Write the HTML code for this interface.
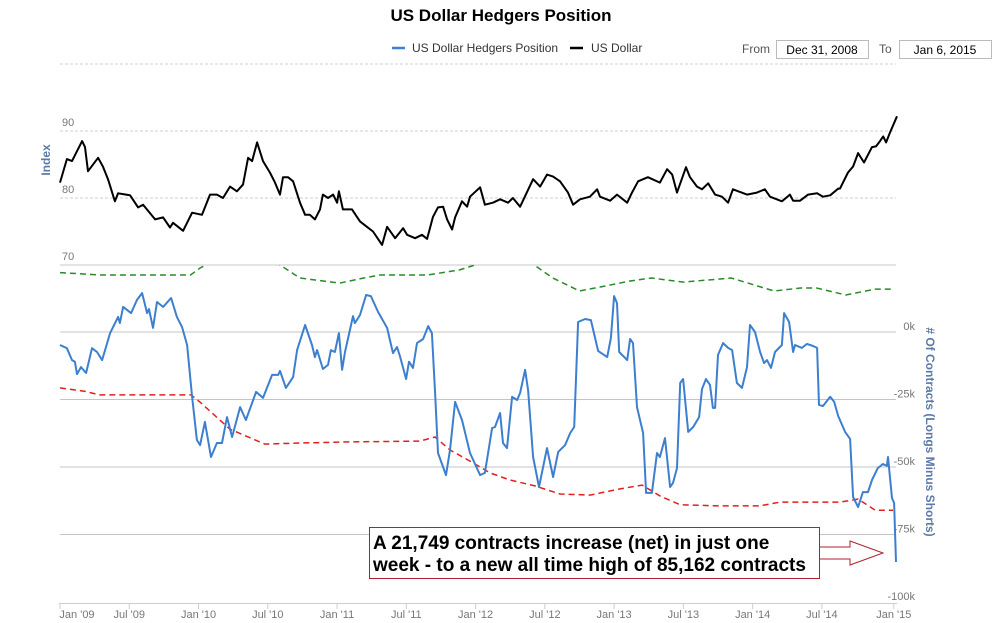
<!DOCTYPE html>
<html><head><meta charset="utf-8">
<style>
body{margin:0;background:#fff;}
svg{display:block;font-family:"Liberation Sans",Arial,sans-serif;}
</style></head>
<body>
<svg id="chart" width="1001" height="623" viewBox="0 0 1001 623">
<defs><clipPath id="botclip"><rect x="58" y="265" width="842" height="340"/></clipPath></defs>
<text x="501" y="21" text-anchor="middle" font-size="17" font-weight="bold" fill="#000">US Dollar Hedgers Position</text>
<g>
<line x1="392" y1="48" x2="405" y2="48" stroke="#4080d0" stroke-width="2.5"/>
<text x="412" y="52" font-size="12" fill="#333">US Dollar Hedgers Position</text>
<line x1="570" y1="48" x2="583" y2="48" stroke="#000" stroke-width="2.5"/>
<text x="591" y="52" font-size="12" fill="#333">US Dollar</text>
</g>
<text x="742" y="53" font-size="12" fill="#555">From</text>
<rect x="776.5" y="40.5" width="92" height="18" fill="#fff" stroke="#bbb"/>
<text x="822" y="54" font-size="12" fill="#000" text-anchor="middle">Dec 31, 2008</text>
<text x="879" y="53" font-size="12" fill="#555">To</text>
<rect x="899.5" y="40.5" width="92" height="18" fill="#fff" stroke="#bbb"/>
<text x="945" y="54" font-size="12" fill="#000" text-anchor="middle">Jan 6, 2015</text>
<g id="grid"></g>
<g id="series"></g>
<text transform="translate(50,160) rotate(-90)" text-anchor="middle" font-size="12" font-weight="bold" fill="#5b7aa6">Index</text>
<text transform="translate(926,432) rotate(90)" text-anchor="middle" font-size="12" font-weight="bold" fill="#5b7aa6"># Of Contracts (Longs Minus Shorts)</text>
<g>
<rect x="369.5" y="527.5" width="450" height="51" fill="#fff" stroke="#b02030" stroke-width="1"/>
<text x="373" y="549" font-size="19" font-weight="bold" fill="#000">A 21,749 contracts increase (net) in just one</text>
<text x="373" y="571" font-size="19" font-weight="bold" fill="#000">week - to a new all time high of 85,162 contracts</text>
<path d="M820,547 H850 V541 L883,553 L850,565 V559 H820" fill="none" stroke="#b02030" stroke-width="1"/>
</g>
</svg>
<script>
const xTickLabels=["Jan '09","Jul '09","Jan '10","Jul '10","Jan '11","Jul '11","Jan '12","Jul '12","Jan '13","Jul '13","Jan '14","Jul '14","Jan '15"];
const xTickWeeks=[0,26,52,78,104,130,156,182,208,234,260,286,313];
const leftTicks=[70,80,90,100];
const rightTicks=[0,-25,-50,-75,-100];
const dollarWeeks=[0,2.6,4.5,8.3,9.4,10.5,14.3,16.1,18,20.6,21.8,26.3,29.3,31.2,35.7,38.7,41.3,42.4,46.2,49.6,53.3,56.3,58.9,61.2,63.8,66.4,68.7,70.6,72.1,74,76.2,78.8,80.7,82.6,83.7,85.6,87.5,90.1,92,93.8,95.7,97.6,98.7,100.6,102.5,104,104.7,106.2,109.6,112.6,115.2,117.5,120.9,122.8,125.8,128.8,130.3,133.3,135.9,137.8,140,141.9,143.8,145.3,147.2,148.3,150.9,152.8,153.9,157.7,159.5,162.5,165.2,168.2,170,172.7,177.6,180.2,182.8,185.1,187.7,190.7,192.6,195.2,198.9,201.6,202.7,206.5,209.1,212.9,214.7,217,220.7,225.2,227.9,229.8,231.6,235,236.5,239.1,241,243.3,245.9,248.5,250.8,252.6,257.9,261.6,264.6,266.5,271,274,275.2,277.8,280.8,284.2,286.4,289.1,292.1,292.8,295.8,297.7,299.6,301.8,304.8,306.3,307.8,309,310.1,311.6,314.2];
const dollarValues=[82.3,85.8,85.5,88.5,87.6,84,86,84.7,82.8,79.5,80.7,80.4,78.6,79,76.8,77.1,75.6,76.3,75.1,77.8,77.5,80.5,80.5,80,81.7,81,82,86,85.5,88.3,85.5,83.8,82.3,80.5,83.1,83.1,82.5,79.3,77.5,77.5,76.8,78.3,80.5,80,80.5,79.3,81,78.3,78.3,76.5,75.7,75,73,75.7,74,75.5,74.5,74,74.5,73.9,77.2,78.6,78.7,76.8,75.3,77.1,79.5,78.7,80.2,81.6,79,79.3,79.8,79.3,80,78.7,82.8,81.7,83.5,83.2,82.5,80.8,79,79.8,80.2,81.3,80.2,79.6,80.5,79.3,80.8,82.5,83.1,82.3,84.3,83.5,80.8,84.6,83.1,81.7,81.3,82.2,80.5,80.2,79.3,81.3,80.5,80.8,81.3,80.2,79.5,80.5,79.6,79.6,80.5,80.7,80.2,80.4,81.4,81.4,83.8,84.7,86.7,85.3,87.6,87.7,88.5,89.2,88.3,89.8,92.2];
const hedgerWeeks=[0,2.6,4.5,5.6,6.4,7.9,9.8,12,13.9,15.8,18.8,21.8,22.5,23.7,26.7,28.9,30.8,32.7,33.4,34.9,36.4,38.7,41.7,43.9,45.8,47.7,49.6,51.4,52.6,54.4,56.7,58.9,60.8,62.7,64.6,67.6,69.8,73.6,76.2,79.6,81.9,82.6,84.8,87.5,89,92,94.6,95.7,96.5,98.7,100.6,101.7,103.2,104.7,105.9,107,110,110.7,112.6,114.9,116.7,119.4,122.8,125,126.5,127.6,129.9,131,132.5,134,136.3,138.2,139.6,140.8,141.9,144.9,146.4,148.3,150.9,153.9,157.7,159.5,162.2,163.3,165.2,166.3,167.8,169.7,171.6,172.7,174.6,175.7,177.6,179.8,182.8,185.1,187,189.6,191.5,193,194.5,197.1,199.3,202,205.4,206.8,208,209.1,209.9,212.9,214,215.1,216.6,218.9,220,222.2,224.1,225.2,227.1,229,230.1,231.6,232.8,233.9,235.8,237.7,239.9,241,242.5,244,245.1,245.9,247,248.9,250.8,252.3,254.1,256,257.9,259,260.9,262.8,264.3,265.4,266.9,268.4,271,271.8,273.7,275.2,275.9,278.5,280.4,282.7,284.2,284.9,286.4,289.1,290.6,292.1,294.7,296.6,297.7,299.6,301.4,303.3,304.8,307,308.9,310.4,310.8,312.3,313.1,313.8];
const hedgerValues=[-4.8,-6,-10.4,-11,-15.6,-13,-15.2,-6,-7.4,-10.4,-0.4,5.6,3.3,9.3,7,11.9,14.4,7,8.5,1.5,11.1,9.3,12.6,5.6,1.9,-4.8,-24,-40,-41.9,-33.3,-46.3,-41.1,-41.1,-31.5,-38.9,-27.8,-32.6,-22.2,-24.4,-15.9,-15.9,-14.4,-20.7,-16.7,-6.7,2.6,-4.8,-9.3,-6.7,-13.7,-12.2,-6.7,-7.4,-0.4,-14,-7.4,5.9,3.3,6.3,13.7,13.3,7.4,1.5,-7.8,-5.6,-8.9,-17.4,-11,-13.3,-4.1,-2.6,2.2,-0.4,-22.6,-44.8,-53,-43.7,-25.9,-32.6,-44.8,-53,-52.2,-35.6,-35.2,-30,-41.1,-43,-24,-25.2,-22.6,-14,-21.5,-46.3,-57.4,-43,-53.7,-44.4,-41.9,-37.4,-35.2,3.7,4.8,4.4,-7,-9.3,-2.2,13.3,10.7,-7.4,-10.4,-2.6,-4.1,-27.8,-37.4,-59.6,-59.6,-44.8,-46.3,-39.3,-57.4,-55.9,-50.4,-18.9,-17.4,-37,-35.2,-31.5,-21.1,-17.4,-19.6,-28.1,-28.1,-8.5,-4.1,-5.9,-6.7,-18.9,-20.7,-13,2.6,0,-7.4,-11.5,-10.4,-13.3,-7.4,-4.8,7,3.7,-7.4,-4.8,-5.9,-4.4,-5.2,-5.9,-27,-27.4,-24,-25.9,-31.1,-37,-39.6,-61.1,-64.8,-59.3,-59.3,-54.8,-50.4,-48.9,-49.6,-46.3,-61.5,-63.3,-85.2];
const lowerBandWeeks=[0,9.4,15,49.2,52.6,63.8,76.9,90.1,108.9,135.1,140.8,146.4,153.9,161.4,168.9,178.3,187.7,199,210.2,218.5,225.2,232.8,247.8,262.8,270.3,292.8,299.6,306,312.7];
const lowerBandValues=[-20.7,-22,-23.3,-23.3,-26,-36,-41.5,-41.1,-40.7,-40.4,-38.9,-43.7,-47.8,-52.2,-54.8,-57,-60,-60.4,-58.1,-56.7,-60.7,-64,-64.4,-64.4,-63,-63,-61.9,-66,-66];
const upperBandWeeks=[0,15,49,52.6,56,80,82.6,90,105,114,120,138,150,158,177,185,195,203,214,222,234,252,268,278,284,295,306,313];
const upperBandValues=[22,21.1,21.1,23.7,25.5,27,24.8,20,18.1,20,21.1,21.1,23,25.5,25.5,20,15.2,16.7,18.9,20,18.5,20,15.2,16.3,16.3,13.7,15.9,15.9];

const NS="http://www.w3.org/2000/svg";
const X0=60, PXW=2.664;
function xs(w){return X0+w*PXW;}
function yTop(v){return 265-(v-70)*6.7;}
function yBot(v){return 332-v*2.7;}
function mk(tag,attrs,parent){const e=document.createElementNS(NS,tag);for(const k in attrs)e.setAttribute(k,attrs[k]);parent.appendChild(e);return e;}
const grid=document.getElementById('grid');
const series=document.getElementById('series');
leftTicks.forEach(v=>{
  const y=yTop(v);
  const l=mk('line',{x1:60,x2:896,y1:y,y2:y,stroke:v===70?'#c8c8c8':'#cfcfcf','stroke-width':1,'stroke-dasharray':v===70?'none':'3,2'},grid);
  
  
  if(v<100){
    const t=mk('text',{x:62,y:y-5,'font-size':11,fill:'#777'},grid);
    t.textContent=v;
    
    
  }
});
rightTicks.forEach(v=>{
  const y=yBot(v);
  if(v>-100){
    const l=mk('line',{x1:60,x2:896,y1:y,y2:y,stroke:'#c4c4c4','stroke-width':1},grid);
    
    
  }
  const t=mk('text',{x:915,y:y-2,'font-size':11,fill:'#777','text-anchor':'end'},grid);
  t.textContent=v+'k';
  
  
});
const ax=mk('line',{x1:59,x2:897,y1:603.5,y2:603.5,stroke:'#c0d0e0','stroke-width':1},grid);


xTickWeeks.forEach((w,i)=>{
  const x=xs(w);
  const tk=mk('line',{x1:x,x2:x,y1:603,y2:609,stroke:'#c0d0e0'},grid);
  
  
  const t=mk('text',{x:x+(i===0?17:0),y:618,'font-size':11,fill:'#777','text-anchor':'middle'},grid);
  t.textContent=xTickLabels[i];
  
  
});
function pts(ws,vs,yf){return ws.map((w,i)=>xs(w).toFixed(1)+','+yf(vs[i]).toFixed(1)).join(' ');}
const g=mk('g',{'clip-path':'url(#botclip)'},series);
const up=mk('polyline',{points:pts(upperBandWeeks,upperBandValues,yBot),fill:'none',stroke:'#2a8a2a','stroke-width':1.5,'stroke-dasharray':'6,4'},g);


const lo=mk('polyline',{points:pts(lowerBandWeeks,lowerBandValues,yBot),fill:'none',stroke:'#e02020','stroke-width':1.5,'stroke-dasharray':'6,4'},g);


const hg=mk('polyline',{points:pts(hedgerWeeks,hedgerValues,yBot),fill:'none',stroke:'#3d7fcf','stroke-width':2,'stroke-linejoin':'round'},g);


const dl=mk('polyline',{points:pts(dollarWeeks,dollarValues,yTop),fill:'none',stroke:'#000','stroke-width':2,'stroke-linejoin':'round'},series);


</script>
</body></html>
